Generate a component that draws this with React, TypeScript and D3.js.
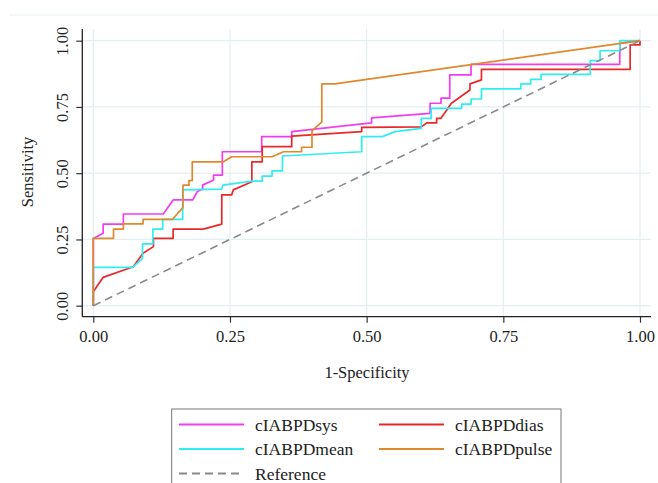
import React, { useEffect, useRef } from "react";
import * as d3 from "d3";

// ROC points (1-specificity, sensitivity)
const sysX = [0, 0, 0.018, 0.018, 0.055, 0.055, 0.128, 0.146, 0.182, 0.19, 0.2, 0.2, 0.22, 0.22, 0.236, 0.236, 0.308, 0.308, 0.363, 0.363, 0.509, 0.509, 0.616, 0.616, 0.636, 0.636, 0.652, 0.652, 0.691, 0.691, 0.963, 0.963, 1];
const sysY = [0, 0.254, 0.273, 0.308, 0.308, 0.346, 0.346, 0.399, 0.399, 0.43, 0.44, 0.455, 0.474, 0.493, 0.493, 0.581, 0.581, 0.638, 0.638, 0.657, 0.69, 0.709, 0.726, 0.764, 0.764, 0.783, 0.783, 0.871, 0.871, 0.911, 0.911, 0.99, 1];

const diasX = [0, 0, 0.018, 0.073, 0.091, 0.11, 0.11, 0.146, 0.146, 0.201, 0.235, 0.235, 0.253, 0.256, 0.29, 0.29, 0.309, 0.309, 0.363, 0.363, 0.491, 0.491, 0.6, 0.61, 0.628, 0.628, 0.636, 0.655, 0.689, 0.689, 0.71, 0.71, 0.982, 0.982, 1, 1];
const diasY = [0, 0.053, 0.107, 0.147, 0.198, 0.223, 0.254, 0.254, 0.289, 0.289, 0.308, 0.418, 0.418, 0.437, 0.468, 0.543, 0.543, 0.6, 0.6, 0.64, 0.657, 0.673, 0.675, 0.69, 0.69, 0.707, 0.707, 0.764, 0.814, 0.837, 0.852, 0.892, 0.892, 0.984, 0.984, 1];

const meanX = [0, 0, 0.072, 0.09, 0.09, 0.109, 0.109, 0.127, 0.127, 0.1635, 0.1635, 0.235, 0.237, 0.29, 0.309, 0.309, 0.327, 0.327, 0.346, 0.346, 0.491, 0.491, 0.529, 0.552, 0.6, 0.6, 0.618, 0.618, 0.674, 0.674, 0.691, 0.691, 0.71, 0.71, 0.782, 0.782, 0.8, 0.8, 0.819, 0.819, 0.909, 0.909, 0.927, 0.927, 0.963, 0.963, 1];
const meanY = [0, 0.145, 0.145, 0.179, 0.233, 0.233, 0.289, 0.289, 0.326, 0.326, 0.437, 0.44, 0.455, 0.47, 0.47, 0.489, 0.489, 0.509, 0.509, 0.565, 0.581, 0.638, 0.638, 0.657, 0.669, 0.707, 0.707, 0.745, 0.745, 0.761, 0.761, 0.78, 0.78, 0.818, 0.818, 0.837, 0.837, 0.854, 0.854, 0.873, 0.873, 0.925, 0.925, 0.962, 0.962, 1, 1];

const pulseX = [0, 0, 0.037, 0.037, 0.055, 0.055, 0.091, 0.091, 0.145, 0.155, 0.164, 0.164, 0.175, 0.175, 0.181, 0.181, 0.238, 0.253, 0.327, 0.348, 0.381, 0.381, 0.4, 0.4, 0.418, 0.418, 0.442, 1];
const pulseY = [0, 0.254, 0.254, 0.289, 0.289, 0.309, 0.309, 0.326, 0.326, 0.35, 0.37, 0.455, 0.455, 0.472, 0.472, 0.543, 0.543, 0.562, 0.562, 0.581, 0.581, 0.598, 0.598, 0.66, 0.694, 0.837, 0.837, 1];

const refX = [0, 1];
const refY = [0, 1];

const seriesNames = ["cIABPDsys", "cIABPDdias", "cIABPDmean", "cIABPDpulse", "Reference"];
const seriesColors = ["#f23cf2", "#e8282a", "#30eef0", "#e0882c", "#8a8a8a"];

const xTicks = [0, 0.25, 0.5, 0.75, 1];
const yTicks = [0, 0.25, 0.5, 0.75, 1];

const W = 658;
const H = 483;
const FONT = "'Liberation Serif', 'Times New Roman', serif";

const App = () => {
  const ref = useRef(null);

  useEffect(() => {
    const svg = d3.select(ref.current);
    svg.selectAll("*").remove();

    const x = d3.scaleLinear().domain([0, 1]).range([93.3, 640]);
    const y = d3.scaleLinear().domain([0, 1]).range([305.7, 40.7]);

    const axX = 82.3; // left axis line
    const axY = 316.7; // bottom axis line
    const gridCol = "#e4eff1";

    // faint outer frame line at top
    svg.append("line")
      .attr("x1", 9).attr("x2", W).attr("y1", 15).attr("y2", 15)
      .attr("stroke", "#e6f0f0").attr("stroke-width", 1);

    // grid
    const grid = svg.append("g");
    grid.selectAll("line.v").data(xTicks).join("line")
      .attr("x1", (d) => x(d)).attr("x2", (d) => x(d))
      .attr("y1", 29).attr("y2", axY)
      .attr("stroke", gridCol).attr("stroke-width", 1.2);
    grid.selectAll("line.h").data(yTicks).join("line")
      .attr("x1", axX).attr("x2", 651)
      .attr("y1", (d) => y(d)).attr("y2", (d) => y(d))
      .attr("stroke", gridCol).attr("stroke-width", 1.2);

    // axes
    const fmt = d3.format(".2f");
    const gx = svg.append("g").attr("transform", `translate(0,${axY})`)
      .call(d3.axisBottom(x).tickValues(xTicks).tickFormat(fmt).tickSize(6).tickSizeOuter(0));
    gx.select(".domain").remove();
    gx.selectAll("text").attr("y", 14).attr("dy", "0.71em")
      .style("font-family", FONT).style("font-size", "16.5px").attr("fill", "#222");

    const gy = svg.append("g").attr("transform", `translate(${axX},0)`)
      .call(d3.axisLeft(y).tickValues(yTicks).tickFormat(fmt).tickSize(6).tickSizeOuter(0));
    gy.select(".domain").remove();
    gy.selectAll("text")
      .attr("x", null).attr("dy", null)
      .attr("text-anchor", "middle")
      .attr("transform", "translate(-14,0) rotate(-90)")
      .style("font-family", FONT).style("font-size", "16.5px").attr("fill", "#222");
    svg.selectAll(".tick line").attr("stroke", "#333").attr("stroke-width", 1.2);

    svg.append("line").attr("x1", axX).attr("x2", axX).attr("y1", 29).attr("y2", axY)
      .attr("stroke", "#222").attr("stroke-width", 1.3);
    svg.append("line").attr("x1", axX).attr("x2", 651).attr("y1", axY).attr("y2", axY)
      .attr("stroke", "#222").attr("stroke-width", 1.3);

    // axis titles
    svg.append("text").attr("x", 367).attr("y", 378).attr("text-anchor", "middle")
      .style("font-family", FONT).style("font-size", "16.5px").attr("fill", "#222")
      .text("1-Specificity");
    svg.append("text").attr("transform", "translate(33,172) rotate(-90)").attr("text-anchor", "middle")
      .style("font-family", FONT).style("font-size", "16.5px").attr("fill", "#222")
      .text("Sensitivity");

    // curves
    const line = d3.line().x((d) => x(d[0])).y((d) => y(d[1]));
    const series = [
      [sysX, sysY],
      [diasX, diasY],
      [meanX, meanY],
      [pulseX, pulseY],
      [refX, refY],
    ];
    series.forEach(([xs, ys], i) => {
      svg.append("path")
        .datum(xs.map((v, j) => [v, ys[j]]))
        .attr("d", line)
        .attr("fill", "none")
        .attr("stroke", seriesColors[i])
        .attr("stroke-width", i === 4 ? 1.6 : 1.7)
        .attr("stroke-dasharray", i === 4 ? "8,5" : null)
        .attr("stroke-linejoin", "round");
    });

    // legend: sys, dias / mean, pulse / reference
    const lg = svg.append("g");
    lg.append("rect").attr("x", 171.7).attr("y", 409).attr("width", 389.3).attr("height", 100)
      .attr("fill", "white").attr("stroke", "#777").attr("stroke-width", 1);
    const rowY = [424.5, 424.5, 449, 449, 473.5];
    const colX = [179, 379, 179, 379, 179];
    seriesNames.forEach((name, k) => {
      lg.append("line")
        .attr("x1", colX[k]).attr("x2", colX[k] + 65)
        .attr("y1", rowY[k]).attr("y2", rowY[k])
        .attr("stroke", seriesColors[k]).attr("stroke-width", 1.8)
        .attr("stroke-dasharray", k === 4 ? "8,5" : null);
      lg.append("text")
        .attr("x", colX[k] + 76).attr("y", rowY[k]).attr("dy", "0.35em")
        .style("font-family", FONT).style("font-size", "17.5px").attr("fill", "#222")
        .text(name);
    });
  }, []);

  return (
    <svg
      ref={ref}
      width={W}
      height={H}
      style={{ position: "absolute", left: 0, top: 0, background: "white", display: "block" }}
    />
  );
};

export default App;
